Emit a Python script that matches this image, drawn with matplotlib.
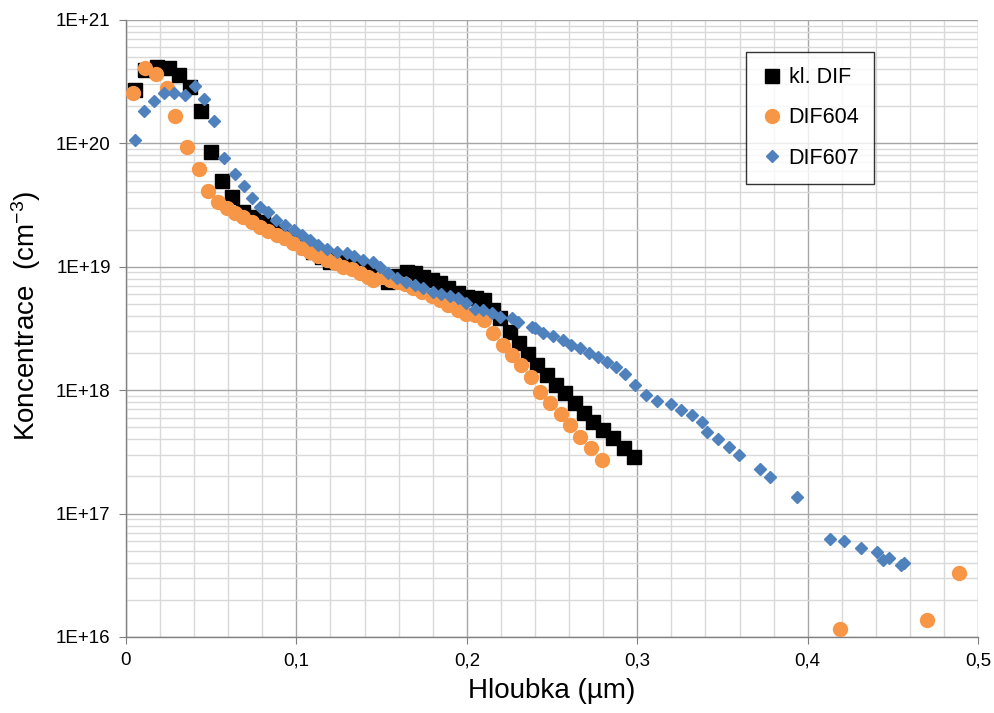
import numpy as np
import matplotlib
matplotlib.use('Agg')
import matplotlib.pyplot as plt
from matplotlib.ticker import FuncFormatter, LogLocator, MultipleLocator

plt.rcParams['font.family'] = ['Liberation Sans', 'DejaVu Sans']
plt.rcParams['mathtext.default'] = 'regular'

# kl. DIF
kl_x = [0.0053, 0.0112, 0.0182, 0.0252, 0.0311, 0.0376, 0.0440, 0.0499, 0.0563, 0.0622,
        0.0687, 0.0745, 0.0804, 0.0857, 0.0904, 0.0951, 0.1004, 0.1050, 0.1097, 0.1150,
        0.1197, 0.1244, 0.1297, 0.1356, 0.1414, 0.1473, 0.1538, 0.1596, 0.1649, 0.1696,
        0.1743, 0.1796, 0.1843, 0.1890, 0.1948, 0.2001, 0.2054, 0.2101, 0.2154, 0.2195,
        0.2254, 0.2306, 0.2359, 0.2412, 0.2471, 0.2523, 0.2576, 0.2635, 0.2688, 0.2741,
        0.2799, 0.2858, 0.2923, 0.2981]
kl_c = [2.71e20, 3.94e20, 4.16e20, 4.08e20, 3.58e20, 2.86e20, 1.83e20, 8.5e19, 4.95e19, 3.68e19,
        2.78e19, 2.53e19, 2.31e19, 2.10e19, 1.91e19, 1.75e19, 1.65e19, 1.45e19, 1.32e19, 1.20e19,
        1.09e19, 1.16e19, 1.09e19, 1.03e19, 9.6e18, 8.9e18, 7.5e18, 8.4e18, 9.1e18, 8.9e18,
        8.3e18, 7.8e18, 7.4e18, 6.7e18, 6.1e18, 5.7e18, 5.6e18, 5.4e18, 4.47e18, 3.85e18,
        2.96e18, 2.41e18, 1.96e18, 1.60e18, 1.33e18, 1.10e18, 9.5e17, 7.9e17, 6.5e17, 5.5e17,
        4.75e17, 4.10e17, 3.40e17, 2.88e17]

# DIF604
d604_x = [0.0041, 0.0112, 0.0176, 0.0241, 0.0288, 0.0358, 0.0428, 0.0481, 0.0540, 0.0593,
          0.0640, 0.0687, 0.0739, 0.0786, 0.0833, 0.0886, 0.0933, 0.0980, 0.1033, 0.1080,
          0.1127, 0.1180, 0.1227, 0.1273, 0.1326, 0.1373, 0.1420, 0.1450, 0.1502, 0.1549,
          0.1590, 0.1637, 0.1684, 0.1737, 0.1796, 0.1843, 0.1890, 0.1948, 0.1995, 0.2048,
          0.2101, 0.2154, 0.2212, 0.2265, 0.2318, 0.2377, 0.2430, 0.2488, 0.2553, 0.2606,
          0.2664, 0.2729, 0.2793, 0.4190, 0.4701, 0.4888]
d604_c = [2.56e20, 4.08e20, 3.65e20, 2.81e20, 1.67e20, 9.35e19, 6.2e19, 4.11e19, 3.35e19, 2.99e19,
          2.73e19, 2.53e19, 2.31e19, 2.10e19, 1.95e19, 1.81e19, 1.71e19, 1.56e19, 1.42e19, 1.32e19,
          1.22e19, 1.14e19, 1.07e19, 9.96e18, 9.6e18, 8.9e18, 8.3e18, 7.8e18, 8.3e18, 7.8e18,
          7.5e18, 7.3e18, 6.7e18, 6.25e18, 5.8e18, 5.4e18, 4.9e18, 4.47e18, 4.15e18, 4.07e18,
          3.71e18, 2.91e18, 2.32e18, 1.93e18, 1.60e18, 1.28e18, 9.7e17, 7.9e17, 6.4e17, 5.2e17,
          4.18e17, 3.40e17, 2.72e17, 1.16e16, 1.37e16, 3.30e16]

# DIF607
d607_x = [0.0053, 0.0106, 0.0164, 0.0223, 0.0282, 0.0346, 0.0405, 0.0458, 0.0516, 0.0575,
          0.0640, 0.0692, 0.0739, 0.0786, 0.0833, 0.0880, 0.0933, 0.0986, 0.1033, 0.1080,
          0.1127, 0.1180, 0.1238, 0.1297, 0.1338, 0.1391, 0.1450, 0.1491, 0.1538, 0.1590,
          0.1643, 0.1696, 0.1743, 0.1802, 0.1849, 0.1901, 0.1948, 0.1995, 0.2048, 0.2095,
          0.2148, 0.2195, 0.2265, 0.2300, 0.2383, 0.2400, 0.2447, 0.2506, 0.2565, 0.2611,
          0.2664, 0.2717, 0.2770, 0.2823, 0.2876, 0.2928, 0.2987, 0.3052, 0.3116, 0.3198,
          0.3257, 0.3322, 0.3380, 0.3410, 0.3474, 0.3539, 0.3597, 0.3721, 0.3779, 0.3938,
          0.4131, 0.4214, 0.4313, 0.4407, 0.4442, 0.4478, 0.4548, 0.4566]
d607_c = [1.07e20, 1.83e20, 2.21e20, 2.56e20, 2.56e20, 2.47e20, 2.92e20, 2.29e20, 1.52e20, 7.6e19,
          5.65e19, 4.52e19, 3.61e19, 3.05e19, 2.78e19, 2.39e19, 2.18e19, 1.99e19, 1.81e19, 1.65e19,
          1.50e19, 1.39e19, 1.32e19, 1.29e19, 1.22e19, 1.14e19, 1.09e19, 9.96e18, 8.9e18, 8.1e18,
          7.5e18, 7.1e18, 6.7e18, 6.25e18, 6.0e18, 5.8e18, 5.6e18, 5.1e18, 4.55e18, 4.47e18,
          4.22e18, 3.92e18, 3.85e18, 3.57e18, 3.25e18, 3.19e18, 2.91e18, 2.75e18, 2.55e18, 2.32e18,
          2.20e18, 2.00e18, 1.86e18, 1.69e18, 1.54e18, 1.35e18, 1.10e18, 9.15e17, 8.2e17, 7.7e17,
          6.9e17, 6.3e17, 5.5e17, 4.58e17, 4.03e17, 3.47e17, 2.99e17, 2.30e17, 1.98e17, 1.36e17,
          6.2e16, 6.0e16, 5.26e16, 4.89e16, 4.21e16, 4.37e16, 3.83e16, 3.98e16]

fig = plt.figure(figsize=(9.95, 7.13), dpi=100)
ax = fig.add_axes([0.1266, 0.1066, 0.8565, 0.8654])

ax.plot(kl_x, kl_c, 's', color='black', markersize=10, label='kl. DIF', zorder=3)
ax.plot(d604_x, d604_c, 'o', color='#F79646', markersize=10, label='DIF604', zorder=4)
ax.plot(d607_x, d607_c, 'D', color='#4F81BD', markersize=6.5, label='DIF607', zorder=5)

ax.set_yscale('log')
ax.set_xlim(0, 0.5)
ax.set_ylim(1e16, 1e21)

ax.xaxis.set_major_locator(MultipleLocator(0.1))
ax.xaxis.set_minor_locator(MultipleLocator(0.02))
ax.yaxis.set_major_locator(LogLocator(base=10, numticks=10))
ax.yaxis.set_minor_locator(LogLocator(base=10, subs=np.arange(2, 10), numticks=20))

ax.xaxis.set_major_formatter(FuncFormatter(lambda v, p: ('%g' % round(v, 2)).replace('.', ',')))
ax.yaxis.set_major_formatter(FuncFormatter(lambda v, p: '1E+%d' % round(np.log10(v))))
ax.yaxis.set_minor_formatter(FuncFormatter(lambda v, p: ''))

ax.grid(True, which='major', color='#a6a6a6', linewidth=1.0, zorder=0)
ax.grid(True, which='minor', color='#d9d9d9', linewidth=1.0, zorder=0)
ax.set_axisbelow(True)

for s in ['top', 'right']:
    ax.spines[s].set_visible(False)
for s in ['left', 'bottom']:
    ax.spines[s].set_color('#808080')
    ax.spines[s].set_linewidth(1.0)

ax.tick_params(which='major', direction='out', length=5, color='#808080', labelsize=13.5, pad=6)
ax.tick_params(which='minor', length=0)

ax.set_xlabel('Hloubka (µm)', fontsize=20, labelpad=6)
ax.set_ylabel('Koncentrace  (cm$^{-3}$)', fontsize=20, labelpad=6)
ax.yaxis.set_label_coords(-0.097, 0.52)

leg = ax.legend(loc='upper left', bbox_to_anchor=(0.727, 0.948), fontsize=15.5, frameon=True,
                fancybox=False, edgecolor='black', borderpad=0.7, labelspacing=0.9,
                handletextpad=0.2, handlelength=1.1, borderaxespad=0)
leg.get_frame().set_linewidth(1.0)

fig.savefig('out.png', dpi=100)
